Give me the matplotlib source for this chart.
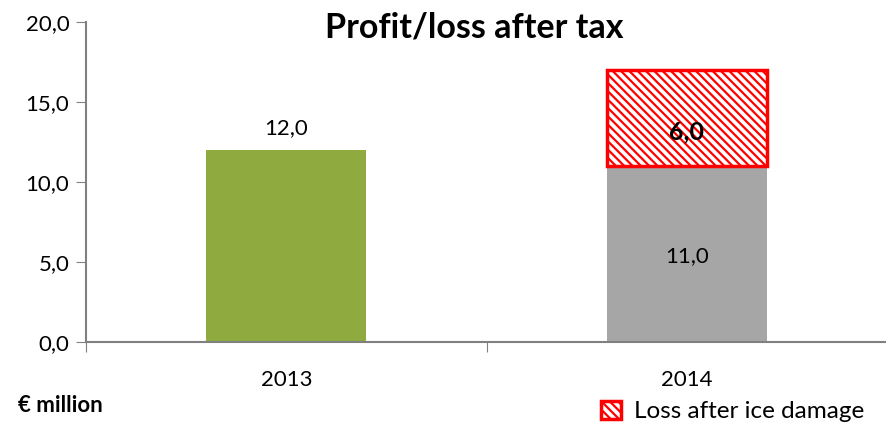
import matplotlib.pyplot as plt
import matplotlib.patches as patches
import numpy as np

# chart data
years = ['2013', '2014']
profit = [12.0, 11.0]
ice_loss = [0.0, 6.0]
y_ticks = [0, 5, 10, 15, 20]
y_tick_labels = ['0,0', '5,0', '10,0', '15,0', '20,0']

plt.rcParams['font.family'] = ['Lato', 'DejaVu Sans']
plt.rcParams['hatch.linewidth'] = 1.6
plt.rcParams['hatch.color'] = '#FF0000'

fig = plt.figure(figsize=(8.87, 4.23), dpi=100)
ax = fig.add_axes([0.097, 0.1915, 0.903, 0.7565])

x = np.arange(len(years))
bar_colors = ['#8FAA3E', '#A6A6A6']
ax.bar(x, profit, width=0.4, color=bar_colors, zorder=2)

# hatched loss block stacked on 2014
ax.bar(x[1], ice_loss[1], bottom=profit[1], width=0.4, facecolor='white',
       edgecolor='#FF0000', hatch='\\\\\\\\', linewidth=2.5, zorder=2)

ax.set_xlim(-0.5, 1.5)
ax.set_ylim(0, 20)
ax.set_yticks(y_ticks)
ax.set_yticklabels(y_tick_labels, fontsize=16)
ax.set_xticks([-0.5, 0.5, 1.5])
ax.set_xticklabels([])
ax.set_xticks(x, minor=True)
ax.set_xticklabels(years, minor=True, fontsize=16)
ax.tick_params(axis='x', which='minor', length=0, pad=20)
ax.tick_params(axis='x', which='major', length=7, color='#808080', direction='out')
ax.tick_params(axis='y', length=7, color='#808080', pad=5)

for side in ['top', 'right']:
    ax.spines[side].set_visible(False)
for side in ['left', 'bottom']:
    ax.spines[side].set_color('#808080')
    ax.spines[side].set_linewidth(1.5)

# value labels
ax.text(x[0], profit[0] + 1.4, '12,0', ha='center', va='center', fontsize=16)
ax.text(x[1], 5.4, '11,0', ha='center', va='center', fontsize=16)
ax.text(x[1], profit[1] + 2.1, '6,0', ha='center', va='center', fontsize=18,
        fontweight='bold')

fig.text(0.535, 0.935, 'Profit/loss after tax', ha='center', va='center',
         fontsize=24.5, fontweight='bold')
fig.text(0.02, 0.042, '€ million', ha='left', va='center', fontsize=16,
         fontweight='bold')

# legend entry
handle = patches.Patch(facecolor='white', edgecolor='#FF0000', hatch='\\\\\\\\',
                       linewidth=2.5, label='Loss after ice damage')
fig.legend(handles=[handle], loc='center left', bbox_to_anchor=(0.667, 0.027),
           frameon=False, fontsize=17.5, handlelength=0.8, handleheight=0.8,
           handletextpad=0.55, borderaxespad=0)

fig.savefig('out.png', dpi=100)
